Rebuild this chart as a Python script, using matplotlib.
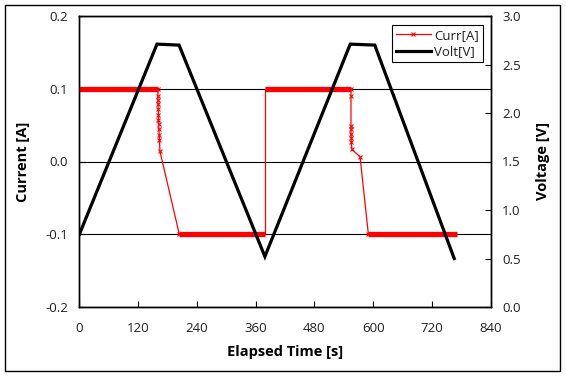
import matplotlib
matplotlib.use("Agg")
import matplotlib.pyplot as plt
from matplotlib.lines import Line2D
from matplotlib.patches import Rectangle

plt.rcParams['font.family'] = ['Open Sans', 'DejaVu Sans']

# current transients (s, A)
drop1_t = [161, 161, 161, 161.5, 161.5, 162, 162, 162.5, 163, 163.5, 164, 165, 204.5]
drop1_i = [0.1, 0.0907, 0.0843, 0.0784, 0.0715, 0.0646, 0.0577, 0.0509, 0.0440, 0.0371,
           0.0302, 0.0141, -0.1]
drop2_t = [554.5, 554.5, 554.5, 554.5, 554.5, 555, 555, 556.5, 573, 590]
drop2_i = [0.1, 0.0898, 0.0485, 0.0440, 0.0380, 0.0326, 0.0265, 0.0165, 0.0065, -0.1]
step_t = [380, 380]
step_i = [-0.1, 0.1]

# constant-current plateaus (start, end, level)
plat_start = [0, 204.5, 380, 590]
plat_end = [161, 380, 554.5, 770]
plat_level = [0.1, -0.1, 0.1, -0.1]

# voltage profile
volt_t = [0, 159, 204, 379, 553, 603, 765]
volt_v = [0.74, 2.71, 2.70, 0.52, 2.71, 2.70, 0.50]

red = '#ff0000'
txt = '#202020'

fig = plt.figure(figsize=(5.66, 3.77), dpi=100)
ax = fig.add_axes([79 / 566, 1 - 307 / 377, 412 / 566, 291 / 377])
ax2 = ax.twinx()

for s, e, lv in zip(plat_start, plat_end, plat_level):
    ax.plot([s, e], [lv, lv], color=red, lw=3.8, solid_capstyle='butt', zorder=3)
ax.plot(drop1_t, drop1_i, color=red, lw=0.9, marker='x', ms=3.5, mew=0.8, zorder=3)
ax.plot(drop2_t, drop2_i, color=red, lw=0.9, marker='x', ms=3.5, mew=0.8, zorder=3)
ax.plot(step_t, step_i, color=red, lw=0.9, zorder=3)

ax2.plot(volt_t, volt_v, color='black', lw=2.3, solid_joinstyle='miter')

ax.set_xlim(0, 840)
ax.set_ylim(-0.2, 0.2)
ax2.set_ylim(0, 3.0)
ax.set_xticks(range(0, 841, 120))
ax.set_yticks([-0.2, -0.1, 0.0, 0.1, 0.2])
ax.set_yticklabels(['-0.2', '-0.1', '0.0', '0.1', '0.2'])
ax2.set_yticks([0, 0.5, 1.0, 1.5, 2.0, 2.5, 3.0])
ax2.set_yticklabels(['0.0', '0.5', '1.0', '1.5', '2.0', '2.5', '3.0'])

for a in (ax, ax2):
    a.tick_params(direction='in', length=4, width=0.8, labelsize=9.5, labelcolor=txt, pad=8)
    for sp in a.spines.values():
        sp.set_linewidth(1.0)
ax.tick_params(axis='x', pad=11)
ax.grid(axis='y', color='black', lw=0.8)
ax.set_axisbelow(True)

ax.set_xlabel('Elapsed Time [s]', fontsize=10.5, fontweight='bold', labelpad=7)
ax.set_ylabel('Current [A]', fontsize=10.5, fontweight='bold', labelpad=11)
ax2.set_ylabel('Voltage [V]', fontsize=10.5, fontweight='bold', labelpad=11)

handles = [Line2D([], [], color=red, lw=0.9, marker='x', ms=3.5, mew=0.8),
           Line2D([], [], color='black', lw=2.3)]
leg = ax2.legend(handles, ['Curr[A]', 'Volt[V]'], loc='upper right',
                 bbox_to_anchor=(0.981, 0.969), borderaxespad=0, fontsize=9.5,
                 fancybox=False, frameon=True, edgecolor='black', framealpha=1,
                 handlelength=2.6, handletextpad=0.3, borderpad=0.3, labelspacing=0.25)
leg.get_frame().set_linewidth(0.8)
for t in leg.get_texts():
    t.set_color(txt)

fig.patches.append(Rectangle((5 / 566, 1 - 371 / 377), 555 / 566, 366 / 377,
                             transform=fig.transFigure, fill=False,
                             edgecolor='black', lw=1.0))

fig.savefig('out.png', dpi=100)
